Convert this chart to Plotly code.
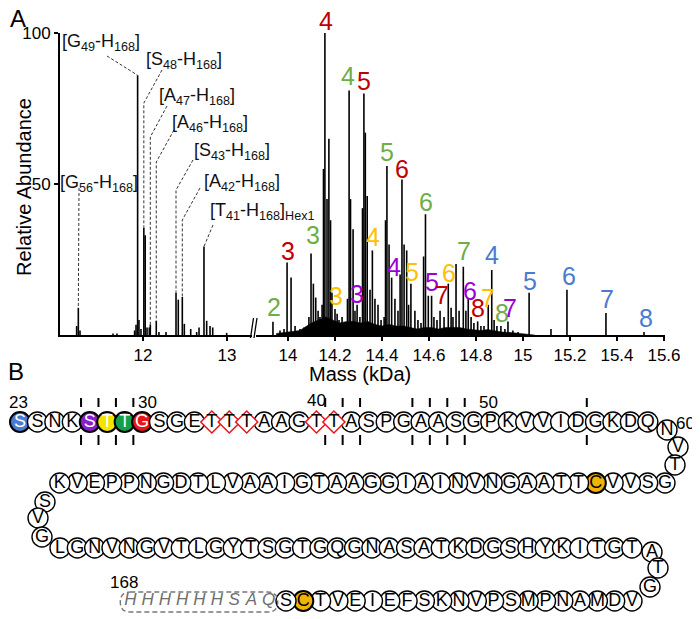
import plotly.graph_objects as go

# ---------------- panel A: deconvoluted spectrum ----------------
# left part of the broken axis (truncated fragments)
mass_left = [11.210, 11.230, 11.250, 11.643, 11.690, 11.900, 11.917, 11.936, 11.952, 11.976,
             12.010, 12.026, 12.048, 12.075, 12.087, 12.158, 12.190, 12.274, 12.393, 12.420,
             12.468, 12.492, 12.568, 12.639, 12.667, 12.726, 12.758, 12.798, 12.830, 12.996]
abund_left = [3, 9, 1.5, 0.5, 0.5, 1.5, 3.4, 86, 5, 2,
              35.5, 33, 2.5, 2.5, 3.5, 4.7, 1, 1, 14, 11.7,
              12.6, 3.7, 2, 1, 2.5, 29.3, 4.7, 3, 2.5, 0.7]

# right part of the broken axis (intact glycoforms)
mass_right = [13.936, 13.966, 13.983, 13.996, 14.013, 14.030, 14.051, 14.068, 14.081, 14.089,
              14.098, 14.108, 14.118, 14.128, 14.136, 14.145, 14.151, 14.157, 14.166, 14.174,
              14.181, 14.187, 14.200, 14.209, 14.217, 14.230, 14.243, 14.253, 14.260, 14.266,
              14.277, 14.285, 14.294, 14.306, 14.317, 14.323, 14.329, 14.337, 14.349, 14.359,
              14.370, 14.383, 14.396, 14.409, 14.415, 14.421, 14.430, 14.441, 14.455, 14.468,
              14.477, 14.485, 14.494, 14.505, 14.513, 14.523, 14.540, 14.553, 14.566, 14.577,
              14.585, 14.597, 14.611, 14.621, 14.634, 14.647, 14.664, 14.682, 14.694, 14.702,
              14.715, 14.728, 14.746, 14.757, 14.767, 14.779, 14.791, 14.807, 14.821, 14.834,
              14.852, 14.867, 14.877, 14.889, 14.906, 14.923, 14.936, 14.957, 14.979, 15.026,
              15.119, 15.187, 15.353, 15.515]
abund_right = [4.4, 1.5, 2, 24, 19, 3, 2, 2.5, 3, 6,
               27, 17, 12.4, 8, 6, 10, 55, 100, 45, 65,
               38, 14, 8.6, 7, 5, 6, 4, 12, 81, 45,
               35, 8, 10, 6, 42, 80, 67, 46, 15, 28,
               12, 10, 5, 6, 38, 56, 30, 19, 12, 8,
               20, 51.5, 30, 28, 10, 17, 8, 5, 4, 26,
               40, 13, 13, 6, 5, 8, 6, 17, 9, 6,
               23.5, 8, 22.6, 8, 12, 6, 4, 4.5, 3, 3,
               10, 21.5, 5, 3, 3, 2, 4.5, 1.5, 1, 14,
               2, 15, 7.3, 1]

# dense low-level signal under the glycoform envelope
noise_mass = [13.95, 14.00, 14.05, 14.08, 14.10, 14.13, 14.16, 14.19, 14.22, 14.25,
              14.28, 14.31, 14.34, 14.37, 14.40, 14.43, 14.46, 14.49, 14.52, 14.55,
              14.58, 14.61, 14.64, 14.67, 14.70, 14.73, 14.76, 14.79, 14.82, 14.85,
              14.88, 14.91, 14.95, 15.00, 15.05]
noise_level = [0.5, 1, 1.5, 3, 4, 5, 6, 5, 4, 4.5,
               4.5, 4, 4.5, 3.5, 3, 3.5, 3, 3, 2.5, 2,
               2.5, 2.5, 2, 2.5, 2.5, 2.5, 2, 1.8, 1.5, 1.8,
               1.3, 1, 0.8, 0.3, 0]

frag_labels = ['[G<sub>49</sub>-H<sub>168</sub>]', '[S<sub>48</sub>-H<sub>168</sub>]',
               '[A<sub>47</sub>-H<sub>168</sub>]', '[A<sub>46</sub>-H<sub>168</sub>]',
               '[S<sub>43</sub>-H<sub>168</sub>]', '[A<sub>42</sub>-H<sub>168</sub>]',
               '[T<sub>41</sub>-H<sub>168</sub>]<sub>Hex1</sub>', '[G<sub>56</sub>-H<sub>168</sub>]']
frag_mass = [11.936, 12.010, 12.087, 12.158, 12.393, 12.468, 12.726, 11.230]

ion_text = ['4', '4', '5', '5', '6', '6', '4', '3', '3', '7', '4', '4', '5', '6',
            '5', '5', '6', '7', '6', '7', '3', '3', '8', '8', '7', '7', '8', '2']
ion_series = ['red', 'green', 'red', 'green', 'red', 'green', 'yellow', 'green', 'red', 'green',
              'blue', 'purple', 'yellow', 'yellow', 'purple', 'blue', 'blue', 'red', 'purple',
              'yellow', 'yellow', 'purple', 'red', 'green', 'purple', 'blue', 'blue', 'green']
ion_mass = [14.162, 14.255, 14.323, 14.421, 14.485, 14.587, 14.362, 14.106, 14.000, 14.749,
            14.868, 14.451, 14.528, 14.685, 14.613, 15.030, 15.196, 14.655, 14.774, 14.851,
            14.204, 14.294, 14.809, 14.911, 14.945, 15.357, 15.523, 13.940]
ion_abund = [104, 85.7, 84.1, 60.5, 55.1, 44.2, 32.6, 33.2, 27.9, 27.9,
             26.6, 22.6, 20.9, 20.6, 17.6, 17.9, 19.6, 13.3, 14.6, 12.3,
             13.0, 13.6, 9.0, 7.3, 9.0, 12.0, 5.6, 9.3]

left_ticks = [12, 13]
left_tick_text = ['12', '13']
right_ticks = [14, 14.2, 14.4, 14.6, 14.8, 15, 15.2, 15.4, 15.6]
right_tick_text = ['14', '14.2', '14.4', '14.6', '14.8', '15', '15.2', '15.4', '15.6']

# ---------------- panel B: sequence ----------------
first_residue = 23
sequence = ("SSNKSTTGSGETTTAAGTTASPGAASGPKVVIDGKDQ" "NVT"
            "GSVVCTTAAGNVNIAIGGAATGIAAVLTDGNPPEVK" "SVG"
            "LGNVNGVTLGYTSGTGQGNASATKDGSHYKITGT" "ATG"
            "VDMANPMSPVNKSFEIEVTCS" "QASHHHHHH")
glyco_sites = [34, 35, 36, 40, 41]
marked = {23: 'blue', 27: 'purple', 28: 'yellow', 29: 'green', 30: 'red', 67: 'gold', 158: 'gold'}
cleaved_before = [27, 28, 29, 30, 41, 42, 43, 46, 47, 48, 49, 56]
tag_start = 160
numbered = [23, 30, 40, 50, 60, 168]

COLORS = {'red': '#c00000', 'green': '#70ad47', 'yellow': '#ffc000', 'purple': '#9b00d6',
          'blue': '#4a7bd0'}
FILL = {'blue': '#4a7bd0', 'purple': '#8a1fc8', 'yellow': '#f2e600', 'green': '#12a04c',
        'red': '#e8141a', 'gold': '#f2b400'}
FONT = 'Liberation Sans, Arial, sans-serif'

# the page body adds an 8 px margin, so the figure is shifted and shrunk by that much
OFF = 8
W, H = 700, 619
FW, FH = W - OFF, H - OFF
# pixel geometry of panel A (page pixels)
L_PX, R_PX, Y_PX = (60, 252), (256, 665), (335, 33)
L_RANGE = (12 - 83 / 84, 12 + 109 / 84)
R_RANGE = (14 - 32 / 235, 14 + 377 / 235)


def pxx(px):
    return (px - OFF) / FW


def pxy(py):
    return 1 - (py - OFF) / FH


Y_DOM = (pxy(Y_PX[0]), pxy(Y_PX[1]))


def px_mass_left(px):
    return L_RANGE[0] + (px - L_PX[0]) / (L_PX[1] - L_PX[0]) * (L_RANGE[1] - L_RANGE[0])


def py_abund(py):
    return (Y_PX[0] - py) / (Y_PX[0] - Y_PX[1]) * 100


def sticks(ms, hs):
    xs, ys = [], []
    for m, h in zip(ms, hs):
        xs += [m, m, None]
        ys += [0, h, None]
    return xs, ys


def paper_text(text, px, py, size, **kw):
    fig.add_annotation(text=text, x=pxx(px), y=pxy(py), xref='paper', yref='paper',
                       xanchor='center', yanchor='middle', showarrow=False,
                       font=dict(family=FONT, size=size, color=kw.pop('color', 'black')), **kw)


fig = go.Figure()

xl, yl = sticks(mass_left, abund_left)
fig.add_trace(go.Scatter(x=xl, y=yl, mode='lines', line=dict(color='black', width=1.6),
                         xaxis='x', yaxis='y', hoverinfo='skip'))
fig.add_trace(go.Scatter(x=noise_mass, y=noise_level, mode='lines', fill='tozeroy',
                         fillcolor='black', line=dict(color='black', width=0.5),
                         xaxis='x2', yaxis='y', hoverinfo='skip'))
xr, yr = sticks(mass_right, abund_right)
fig.add_trace(go.Scatter(x=xr, y=yr, mode='lines', line=dict(color='black', width=1.6),
                         xaxis='x2', yaxis='y', hoverinfo='skip'))

# fragment labels and their leaders
label_px = [(101, 42), (184, 60), (197, 97), (210, 123), (232, 152), (242, 182), (262, 212), (99, 183)]
leader = [(107, 56, None), (162, 70, 103), (167, 106, 137), (174, 130, 162),
          (193, 160, 190), (200, 188, 220), (213, 225, None), (79, 188, None)]
for txt, m, (lx, ly), (sx, sy, by) in zip(frag_labels, frag_mass, label_px, leader):
    paper_text(txt, lx, ly, 18, color='#111')
    h = abund_left[mass_left.index(m)]
    path = f'M {px_mass_left(sx)},{py_abund(sy)}'
    if by is not None:
        path += f' L {m},{py_abund(by)}'
    path += f' L {m},{h}'
    fig.add_shape(type='path', path=path, xref='x', yref='y',
                  line=dict(color='#333', width=1, dash='3px,2px'))

for t, s, m, a in zip(ion_text, ion_series, ion_mass, ion_abund):
    fig.add_annotation(text=t, x=m, y=Y_DOM[0] + a / 100 * (Y_DOM[1] - Y_DOM[0]),
                       xref='x2', yref='paper', xanchor='center', yanchor='middle',
                       showarrow=False, font=dict(family=FONT, size=25, color=COLORS[s]))

# axis break
for dx in (0, 3.5):
    fig.add_shape(type='line', xref='paper', yref='paper',
                  x0=pxx(250.5 + dx), y0=pxy(338), x1=pxx(253.5 + dx), y1=pxy(318),
                  line=dict(color='black', width=1.3))

paper_text('Relative Abundance', 24, 187, 20, textangle=-90)
paper_text('Mass (kDa)', 360, 374, 20)
paper_text('A', 18, 19, 24)
paper_text('B', 16, 371, 24)

# ---------------- panel B layout (page pixels) ----------------
rows = [(37, 20, 422, 17.44), (36, 665, 483, -17.29), (34, 60, 548, 17.33), (30, 632, 601, -17.3)]
turns = [[(667, 430), (678, 447), (675, 465)],
         [(45, 502), (38, 518), (42, 537)],
         [(652, 552), (658, 568), (650, 587)]]
pos = []
for i, (n, x0, y0, step) in enumerate(rows):
    pos += [(x0 + k * step, y0) for k in range(n)]
    if i < len(turns):
        pos += turns[i]
res = {first_residue + i: (aa, pos[i]) for i, aa in enumerate(sequence)}

cx, cy, ct, cfill, clw, ctc = [], [], [], [], [], []
dx_, dy_, dt = [], [], []
tx, ty, tt = [], [], []
for r, (aa, (x, y)) in res.items():
    if r >= tag_start:
        tx.append(x); ty.append(y); tt.append(aa)
    elif r in glyco_sites:
        dx_.append(x); dy_.append(y); dt.append(aa)
    else:
        cx.append(x); cy.append(y); ct.append(aa)
        c = marked.get(r)
        cfill.append(FILL[c] if c else 'white')
        clw.append(2 if c else 1.4)
        ctc.append('white' if c and c != 'gold' else 'black')

fig.add_trace(go.Scatter(x=cx, y=cy, text=ct, mode='markers+text', xaxis='x3', yaxis='y3',
                         marker=dict(size=20, color=cfill, line=dict(color='black', width=clw)),
                         textposition='middle center', cliponaxis=False, hoverinfo='skip',
                         textfont=dict(family=FONT, size=18, color=ctc)))
fig.add_trace(go.Scatter(x=dx_, y=dy_, text=dt, mode='markers+text', xaxis='x3', yaxis='y3',
                         marker=dict(symbol='diamond', size=17, color='white',
                                     line=dict(color='#e8141a', width=1.5)),
                         textposition='middle center', cliponaxis=False, hoverinfo='skip',
                         textfont=dict(family=FONT, size=18, color='black')))
fig.add_trace(go.Scatter(x=tx, y=ty, text=tt, mode='text', xaxis='x3', yaxis='y3',
                         textposition='middle center', cliponaxis=False, hoverinfo='skip',
                         textfont=dict(family=FONT, size=17, color='#6e6e6e', style='italic')))

# dashed box around the His tag
bx0, bx1 = min(tx) - 10, max(tx) + 9
by0, by1 = ty[0] - 9, ty[0] + 11
rr = 10
fig.add_shape(type='path', xref='x3', yref='y3',
              path=(f'M {bx0 + rr},{by0} L {bx1 - rr},{by0} Q {bx1},{by0} {bx1},{(by0 + by1) / 2} '
                    f'Q {bx1},{by1} {bx1 - rr},{by1} L {bx0 + rr},{by1} '
                    f'Q {bx0},{by1} {bx0},{(by0 + by1) / 2} Q {bx0},{by0} {bx0 + rr},{by0} Z'),
              line=dict(color='#777', width=1.4, dash='5px,3px'))

# cleavage ticks above and below the first row
for r in cleaved_before:
    xm = (res[r - 1][1][0] + res[r][1][0]) / 2
    for ya, yb in ((398, 407), (435, 445)):
        fig.add_shape(type='line', xref='x3', yref='y3', x0=xm, x1=xm, y0=ya, y1=yb,
                      line=dict(color='black', width=2))

num_offset = {23: (-2, -20), 30: (5, -20), 40: (0, -22), 50: (-2, -20), 60: (18, -7), 168: (-6, -19)}
for r in numbered:
    x, y = res[r][1]
    ox, oy = num_offset[r]
    paper_text(str(r), x + ox, y + oy, 17)

axis_common = dict(showline=True, linecolor='black', linewidth=2, ticks='outside', ticklen=4,
                   tickwidth=1.5, tickcolor='black', showgrid=False, zeroline=False,
                   automargin=False, tickfont=dict(family=FONT, size=17, color='black'))
fig.update_layout(
    template='none',
    width=FW, height=FH, margin=dict(l=0, r=0, t=0, b=0, autoexpand=False),
    paper_bgcolor='white', plot_bgcolor='rgba(0,0,0,0)', showlegend=False,
    xaxis=dict(domain=[pxx(L_PX[0]), pxx(L_PX[1])], range=list(L_RANGE), anchor='y',
               tickmode='array', tickvals=left_ticks, ticktext=left_tick_text, **axis_common),
    xaxis2=dict(domain=[pxx(R_PX[0]), pxx(R_PX[1])], range=list(R_RANGE), anchor='y',
                tickmode='array', tickvals=right_ticks, ticktext=right_tick_text, **axis_common),
    yaxis=dict(domain=list(Y_DOM), range=[0, 100], anchor='x',
               tickmode='array', tickvals=[50, 100], ticktext=['50', '100'], **axis_common),
    xaxis3=dict(domain=[0, 1], range=[OFF, W], visible=False, anchor='y3', automargin=False),
    yaxis3=dict(domain=[0, 1], range=[H, OFF], visible=False, anchor='x3', automargin=False),
)

fig.write_html("out.html")
